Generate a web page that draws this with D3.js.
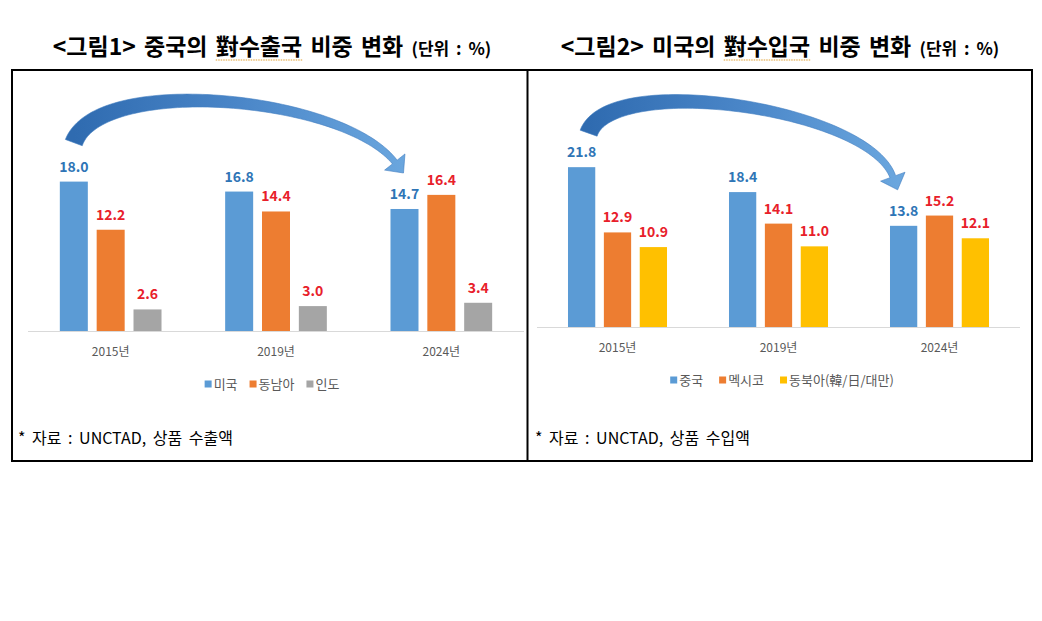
<!DOCTYPE html>
<html>
<head>
<meta charset="utf-8">
<script src="https://cdn.jsdelivr.net/npm/d3@7"></script>
<style>
  body { margin: 0; background: #fff; }
  svg { display: block; }
  text { font-family: "Noto Sans CJK KR", "Noto Sans", sans-serif; }
</style>
</head>
<body>
<svg id="chart" width="1042" height="621"></svg>
<script>
// ---- data ----
const years = ['2015년', '2019년', '2024년'];

const exportSeries = ['미국', '동남아', '인도'];
const exportValues = [
    [18.0, 12.2, 2.6],   // 2015
    [16.8, 14.4, 3.0],   // 2019
    [14.7, 16.4, 3.4]    // 2024
];

const importSeries = ['중국', '멕시코', '동북아(韓/日/대만)'];
const importValues = [
    [21.8, 12.9, 10.9],
    [18.4, 14.1, 11.0],
    [13.8, 15.2, 12.1]
];

const titles = [
    {pre: '<그림1> 중국의 ', mark: '對수출국', post: ' 비중 변화 ', unit: '(단위 : %)'},
    {pre: '<그림2> 미국의 ', mark: '對수입국', post: ' 비중 변화 ', unit: '(단위 : %)'}
];
const sources = ['* 자료 : UNCTAD, 상품 수출액', '* 자료 : UNCTAD, 상품 수입액'];

// ---- layout ----
const svg = d3.select('#chart');

const panels = [
    {
        series: exportSeries, values: exportValues, title: titles[0], source: sources[0],
        colors: ['#5B9BD5', '#ED7D31', '#A5A5A5'],
        titleX: 272, xRange: [28, 524], baseline: 331, yMax: 20, yTop: 165,
        catY: 356, legendX: 272, legendY: 384, legendGap: 12, sourceX: 18,
        arrow: {tail: [0, -39], tip: [-1, -36], c1: [25, -68], c2: [-62, -78], w0: 18, w1: 6}
    },
    {
        series: importSeries, values: importValues, title: titles[1], source: sources[1],
        colors: ['#5B9BD5', '#ED7D31', '#FFC000'],
        titleX: 780, xRange: [537, 1020], baseline: 327, yMax: 25, yTop: 143.7,
        catY: 352, legendX: 782, legendY: 380, legendGap: 16, sourceX: 535,
        arrow: {tail: [7, -34], tip: [-6, -36], c1: [22, -62], c2: [-30, -82], w0: 18, w1: 6}
    }
];

const labelColors = ['#2E75B6', '#E8202A', '#E8202A'];

// frame
svg.append('rect')
    .attr('x', 12).attr('y', 70)
    .attr('width', 1020).attr('height', 391)
    .attr('fill', 'none').attr('stroke', '#000').attr('stroke-width', 2);
svg.append('line')
    .attr('x1', 527.5).attr('x2', 527.5).attr('y1', 70).attr('y2', 461)
    .attr('stroke', '#000').attr('stroke-width', 2);

const defs = svg.append('defs');

panels.forEach((p, pi) => {
    // title
    const title = svg.append('text')
        .attr('x', p.titleX).attr('y', 55)
        .attr('text-anchor', 'middle')
        .attr('font-size', 23).attr('font-weight', 'bold')
        .attr('word-spacing', 3)
        .attr('fill', '#000');
    title.append('tspan').text(p.title.pre);
    title.append('tspan').text(p.title.mark);
    title.append('tspan').text(p.title.post);
    title.append('tspan').attr('font-size', 17).text(p.title.unit);

    const node = title.node();
    const i0 = p.title.pre.length;
    const i1 = i0 + p.title.mark.length - 1;
    const ux0 = node.getStartPositionOfChar(i0).x;
    const ux1 = node.getEndPositionOfChar(i1).x;
    svg.append('line')
        .attr('x1', ux0).attr('x2', ux1).attr('y1', 60).attr('y2', 60)
        .attr('stroke', '#E0A030').attr('stroke-width', 1.2)
        .attr('stroke-dasharray', '1.5,1');

    // scales
    const x = d3.scaleBand().domain(years).range(p.xRange).padding(0);
    const groupSpan = x.bandwidth() * 0.615;
    const xi = d3.scaleBand().domain(d3.range(p.series.length))
        .range([-groupSpan / 2, groupSpan / 2])
        .paddingInner(0.24).paddingOuter(0);
    const y = d3.scaleLinear().domain([0, p.yMax]).range([p.baseline, p.yTop]);

    const g = svg.append('g');

    // baseline
    g.append('line')
        .attr('x1', p.xRange[0]).attr('x2', p.xRange[1])
        .attr('y1', p.baseline + 0.5).attr('y2', p.baseline + 0.5)
        .attr('stroke', '#D9D9D9').attr('stroke-width', 1);

    const cells = [];
    years.forEach((yr, gi) => {
        p.values[gi].forEach((v, si) => cells.push({yr, gi, si, v}));
    });

    const bx = d => x(d.yr) + x.bandwidth() / 2 + xi(d.si);

    g.selectAll('rect.bar')
        .data(cells)
        .join('rect')
        .attr('class', 'bar')
        .attr('x', bx)
        .attr('y', d => y(d.v))
        .attr('width', xi.bandwidth())
        .attr('height', d => y(0) - y(d.v))
        .attr('fill', d => p.colors[d.si]);

    g.selectAll('text.val')
        .data(cells)
        .join('text')
        .attr('class', 'val')
        .attr('x', d => bx(d) + xi.bandwidth() / 2)
        .attr('y', d => y(d.v) - 10)
        .attr('text-anchor', 'middle')
        .attr('font-size', 14).attr('font-weight', 'bold')
        .attr('fill', d => labelColors[d.si])
        .text(d => d3.format('.1f')(d.v));

    // category axis
    g.selectAll('text.cat')
        .data(years)
        .join('text')
        .attr('class', 'cat')
        .attr('x', d => x(d) + x.bandwidth() / 2)
        .attr('y', p.catY)
        .attr('text-anchor', 'middle')
        .attr('font-size', 12)
        .attr('fill', '#595959')
        .text(d => d);

    // legend
    const lg = g.append('g');
    let lx = 0;
    p.series.forEach((s, si) => {
        lg.append('rect')
            .attr('x', lx).attr('y', p.legendY - 3.5)
            .attr('width', 7).attr('height', 7)
            .attr('fill', p.colors[si]);
        const t = lg.append('text')
            .attr('x', lx + 9).attr('y', p.legendY + 4.5)
            .attr('font-size', 13).attr('fill', '#595959')
            .text(s);
        lx += 9 + t.node().getComputedTextLength() + p.legendGap;
    });
    const lw = lx - p.legendGap;
    lg.attr('transform', `translate(${p.legendX - lw / 2},0)`);

    // source note
    g.append('text')
        .attr('x', p.sourceX).attr('y', 444)
        .attr('font-size', 16).attr('fill', '#000')
        .attr('word-spacing', 3)
        .text(p.source);

    // curved block arrow from first group's lead bar to last group's lead bar
    const first = cells[0];
    const last = cells[(years.length - 1) * p.series.length];
    const a = p.arrow;
    const P0 = [bx(first) + xi.bandwidth() / 2 + a.tail[0], y(first.v) + a.tail[1]];
    const tip = [bx(last) + xi.bandwidth() / 2 + a.tip[0], y(last.v) + a.tip[1]];
    const P2 = [tip[0] + a.c2[0], tip[1] + a.c2[1]];
    const dirLen = Math.hypot(tip[0] - P2[0], tip[1] - P2[1]);
    const dir = [(tip[0] - P2[0]) / dirLen, (tip[1] - P2[1]) / dirLen];
    const headLen = 14, headW = 26;
    const P3 = [tip[0] - dir[0] * headLen, tip[1] - dir[1] * headLen];
    const P1 = [P0[0] + a.c1[0], P0[1] + a.c1[1]];

    const bez = t => {
        const u = 1 - t;
        return [
            u * u * u * P0[0] + 3 * u * u * t * P1[0] + 3 * u * t * t * P2[0] + t * t * t * P3[0],
            u * u * u * P0[1] + 3 * u * u * t * P1[1] + 3 * u * t * t * P2[1] + t * t * t * P3[1]
        ];
    };
    const bezD = t => {
        const u = 1 - t;
        return [
            3 * u * u * (P1[0] - P0[0]) + 6 * u * t * (P2[0] - P1[0]) + 3 * t * t * (P3[0] - P2[0]),
            3 * u * u * (P1[1] - P0[1]) + 6 * u * t * (P2[1] - P1[1]) + 3 * t * t * (P3[1] - P2[1])
        ];
    };
    const left = [], right = [];
    const N = 80;
    for (let k = 0; k <= N; k++) {
        const t = k / N;
        const pt = bez(t), d = bezD(t);
        const len = Math.hypot(d[0], d[1]);
        const n = [-d[1] / len, d[0] / len];
        const w = (a.w0 + (a.w1 - a.w0) * t) / 2;
        left.push([pt[0] + n[0] * w, pt[1] + n[1] * w]);
        right.push([pt[0] - n[0] * w, pt[1] - n[1] * w]);
    }
    const nEnd = [-dir[1], dir[0]];
    const pts = left.concat([
        [P3[0] + nEnd[0] * headW / 2, P3[1] + nEnd[1] * headW / 2],
        tip,
        [P3[0] - nEnd[0] * headW / 2, P3[1] - nEnd[1] * headW / 2]
    ], right.reverse());

    const gradId = 'arrowGrad' + pi;
    const grad = defs.append('linearGradient')
        .attr('id', gradId)
        .attr('gradientUnits', 'userSpaceOnUse')
        .attr('x1', P0[0]).attr('y1', 0).attr('x2', tip[0]).attr('y2', 0);
    grad.append('stop').attr('offset', '0%').attr('stop-color', '#2F6BB0');
    grad.append('stop').attr('offset', '50%').attr('stop-color', '#4A86C8');
    grad.append('stop').attr('offset', '100%').attr('stop-color', '#6AA6DE');

    g.append('path')
        .attr('d', d3.line()(pts) + 'Z')
        .attr('fill', `url(#${gradId})`)
        .attr('stroke', '#3F7CC0').attr('stroke-width', 0.6);
});
</script>
</body>
</html>
